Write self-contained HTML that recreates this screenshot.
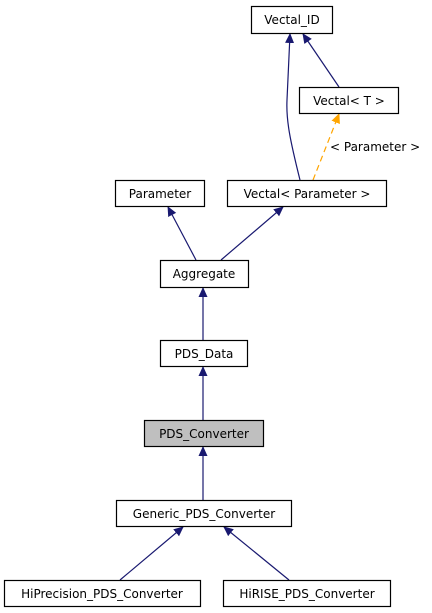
<!DOCTYPE html>
<html><head><style>body{margin:0;background:#fff}svg{display:block}</style></head><body>
<svg width="432" height="613" viewBox="0 0 432 613" xmlns="http://www.w3.org/2000/svg" font-family="'DejaVu Sans', sans-serif" font-size="12">
<defs>
<marker id="a" markerWidth="10" markerHeight="10" refX="9" refY="5" orient="auto" markerUnits="userSpaceOnUse"><path d="M0,0.5 L10,5 L0,9.5 Z" fill="#191970"/></marker>
<marker id="o" markerWidth="10" markerHeight="10" refX="9" refY="5" orient="auto" markerUnits="userSpaceOnUse"><path d="M0,0.5 L10,5 L0,9.5 Z" fill="#ffa500"/></marker>
</defs>
<g fill="none" stroke="#191970" stroke-width="1.2">
<path d="M300,180 C290,140 286,120 287,100 C288,80 289,55 290,34" marker-end="url(#a)"/>
<path d="M339,87 L303,34" marker-end="url(#a)"/>
<path d="M196,260 L168,207" marker-end="url(#a)"/>
<path d="M221,260 L283,207" marker-end="url(#a)"/>
<path d="M203,340 L203,288" marker-end="url(#a)"/>
<path d="M203,420 L203,367" marker-end="url(#a)"/>
<path d="M203,500 L203,447" marker-end="url(#a)"/>
<path d="M120,580 L183,527" marker-end="url(#a)"/>
<path d="M289,580 L224,527" marker-end="url(#a)"/>
</g>
<path d="M313,180 L339,114" fill="none" stroke="#ffa500" stroke-width="1.2" stroke-dasharray="6,4" marker-end="url(#o)"/>
<text x="330" y="151" fill="#000">&lt; Parameter &gt;</text>
<g stroke="#000" fill="#fff" stroke-width="1.2">
<rect x="251.5" y="6.5" width="81" height="27"/>
<rect x="299.5" y="87.5" width="99" height="26"/>
<rect x="115.5" y="180.5" width="89" height="26"/>
<rect x="227.5" y="180.5" width="159" height="26"/>
<rect x="160.5" y="260.5" width="88" height="27"/>
<rect x="160.5" y="340.5" width="87" height="26"/>
<rect x="144.5" y="420.5" width="119" height="26" fill="#bfbfbf"/>
<rect x="116.5" y="500.5" width="175" height="26"/>
<rect x="4.5" y="580.5" width="196" height="26"/>
<rect x="223.5" y="580.5" width="167" height="26"/>
</g>
<g fill="#000" text-anchor="middle">
<text x="292" y="24">Vectal_ID</text>
<text x="349" y="105">Vectal&lt; T &gt;</text>
<text x="160" y="198">Parameter</text>
<text x="307" y="198">Vectal&lt; Parameter &gt;</text>
<text x="204" y="278">Aggregate</text>
<text x="204" y="358">PDS_Data</text>
<text x="204" y="438">PDS_Converter</text>
<text x="204" y="518">Generic_PDS_Converter</text>
<text x="102" y="598">HiPrecision_PDS_Converter</text>
<text x="307" y="598">HiRISE_PDS_Converter</text>
</g>
</svg>
</body></html>
